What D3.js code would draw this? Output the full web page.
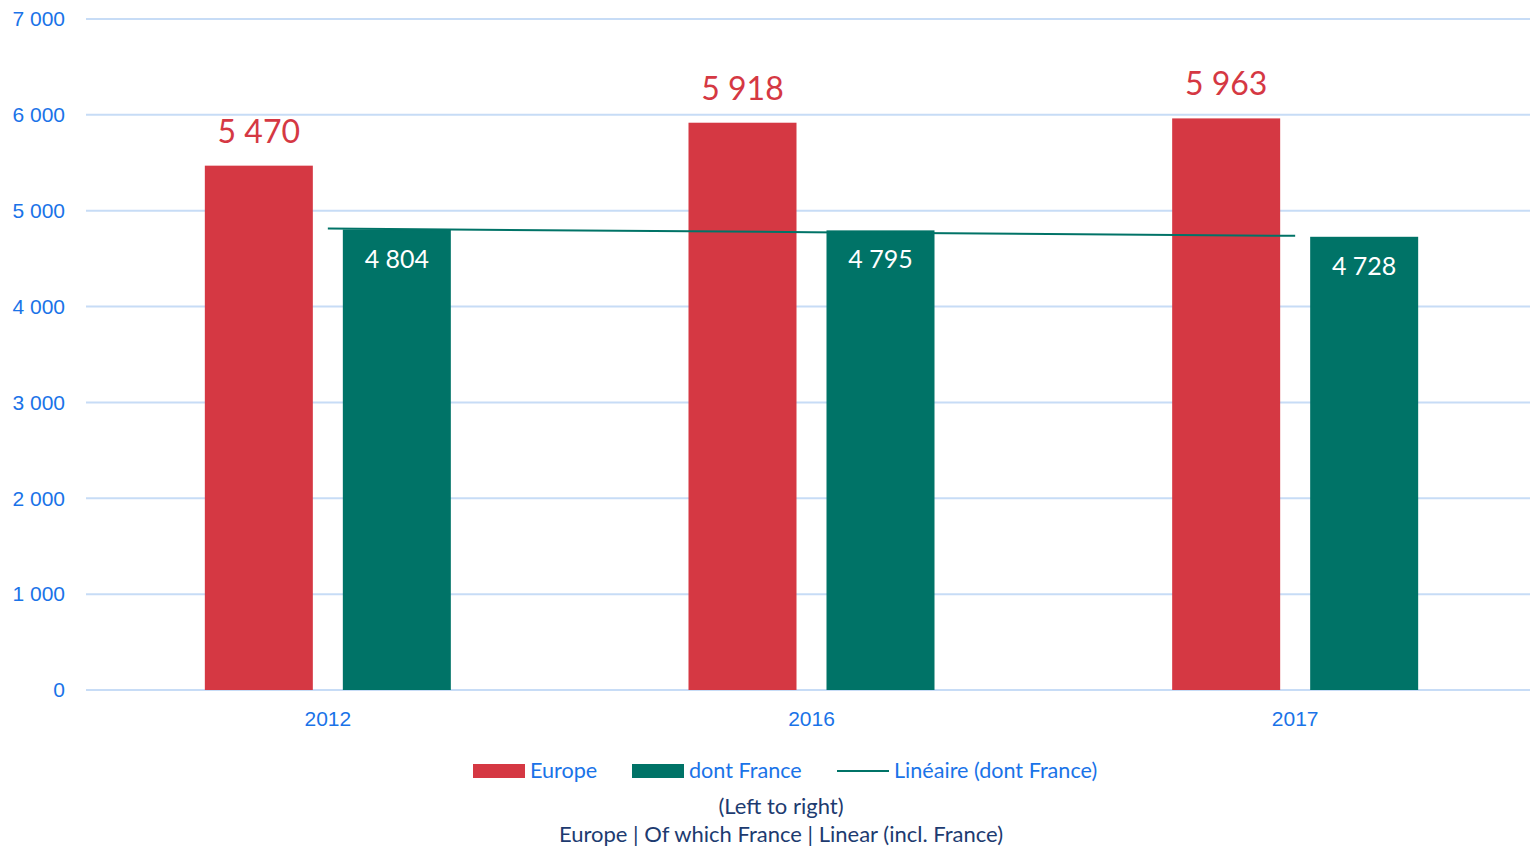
<!DOCTYPE html>
<html>
<head>
<meta charset="utf-8">
<script src="https://cdn.jsdelivr.net/npm/d3@7"></script>
<style>
  html, body { margin: 0; padding: 0; background: #fff; }
  svg { display: block; }
</style>
</head>
<body>
<svg id="chart" width="1530" height="846"></svg>
<script>
// Data
const years = ["2012", "2016", "2017"];
const europe = [5470, 5918, 5963];
const france = [4804, 4795, 4728];
const yTicks = [0, 1000, 2000, 3000, 4000, 5000, 6000, 7000];
const legendLabels = ["Europe", "dont France", "Linéaire (dont France)"];
const noteLines = ["(Left to right)", "Europe | Of which France | Linear (incl. France)"];

const RED = "#d53843";
const GREEN = "#007367";
const AXIS_BLUE = "#1a73e8";
const GRID = "#c7dcf6";
const NAVY = "#1d3b70";
const labelFont = "Lato, 'Open Sans', sans-serif";
const axisFont = "'Liberation Sans', Arial, sans-serif";

const svg = d3.select("#chart");
const W = 1530, H = 846;
const plotLeft = 86, plotTop = 19, plotBottom = 690;

// category bands extend slightly past the right edge of the canvas
const x = d3.scaleBand().domain(years).range([plotLeft, 1537]).paddingInner(0).paddingOuter(0);
const y = d3.scaleLinear().domain([0, 7000]).range([plotBottom, plotTop]);

const fmt = v => d3.format(",")(v).replace(/,/g, " ");

// Gridlines
svg.append("g").selectAll("line").data(yTicks).join("line")
  .attr("x1", plotLeft).attr("x2", W)
  .attr("y1", d => y(d)).attr("y2", d => y(d))
  .attr("stroke", GRID).attr("stroke-width", 2);

// Y axis labels
const yAxis = d3.axisLeft(y).tickValues(yTicks).tickSize(0).tickPadding(21).tickFormat(fmt);
const gy = svg.append("g").attr("transform", `translate(${plotLeft},0)`).call(yAxis);
gy.select(".domain").remove();
gy.selectAll("text").attr("fill", AXIS_BLUE).attr("font-family", axisFont).attr("font-size", 21);

// X axis labels
const xAxis = d3.axisBottom(x).tickSize(0).tickPadding(21);
const gx = svg.append("g").attr("transform", `translate(0,${y(0)})`).call(xAxis);
gx.select(".domain").remove();
gx.selectAll("text").attr("fill", AXIS_BLUE).attr("font-family", axisFont).attr("font-size", 21);

// Bars
const barW = 108, gap = 30;
const redX = d => x(d) + x.bandwidth() / 2 - gap / 2 - barW;
const greenX = d => x(d) + x.bandwidth() / 2 + gap / 2;

svg.append("g").selectAll("rect").data(years).join("rect")
  .attr("x", d => redX(d)).attr("width", barW)
  .attr("y", (d, i) => y(europe[i])).attr("height", (d, i) => y(0) - y(europe[i]))
  .attr("fill", RED);

svg.append("g").selectAll("rect").data(years).join("rect")
  .attr("x", d => greenX(d)).attr("width", barW)
  .attr("y", (d, i) => y(france[i])).attr("height", (d, i) => y(0) - y(france[i]))
  .attr("fill", GREEN);

// Linear trend of the France series
const xs = france.map((_, i) => i + 1);
const mx = d3.mean(xs), my = d3.mean(france);
const slope = d3.sum(xs.map((xi, i) => (xi - mx) * (france[i] - my))) / d3.sum(xs.map(xi => (xi - mx) ** 2));
const icpt = my - slope * mx;
const trend = years.map((yr, i) => ({ cx: x(yr) + x.bandwidth() / 2, v: icpt + slope * (i + 1) }));
svg.append("path")
  .datum(trend)
  .attr("d", d3.line().x(d => d.cx).y(d => y(d.v)))
  .attr("fill", "none").attr("stroke", GREEN).attr("stroke-width", 2);

// Value labels
svg.append("g").selectAll("text").data(years).join("text")
  .attr("x", d => redX(d) + barW / 2)
  .attr("y", (d, i) => y(europe[i]) - 23)
  .attr("text-anchor", "middle")
  .attr("font-family", labelFont).attr("font-size", 32)
  .attr("fill", RED)
  .text((d, i) => fmt(europe[i]));

svg.append("g").selectAll("text").data(years).join("text")
  .attr("x", d => greenX(d) + barW / 2)
  .attr("y", (d, i) => y(france[i]) + 38)
  .attr("text-anchor", "middle")
  .attr("font-family", labelFont).attr("font-size", 25)
  .attr("fill", "#fff")
  .text((d, i) => fmt(france[i]));

// Legend
const lg = svg.append("g").attr("font-family", labelFont).attr("font-size", 21.6).attr("fill", AXIS_BLUE);
const legendY = 771;
lg.append("rect").attr("x", 473).attr("y", legendY - 7).attr("width", 52).attr("height", 14).attr("fill", RED);
lg.append("text").attr("x", 530).attr("y", legendY + 7).text(legendLabels[0]);
lg.append("rect").attr("x", 632).attr("y", legendY - 7).attr("width", 52).attr("height", 14).attr("fill", GREEN);
lg.append("text").attr("x", 689).attr("y", legendY + 7).text(legendLabels[1]);
lg.append("line").attr("x1", 837).attr("x2", 889).attr("y1", legendY).attr("y2", legendY)
  .attr("stroke", GREEN).attr("stroke-width", 2);
lg.append("text").attr("x", 894).attr("y", legendY + 7).text(legendLabels[2]);

// Note
svg.append("g").selectAll("text").data(noteLines).join("text")
  .attr("x", 781).attr("y", (d, i) => 814 + i * 28)
  .attr("text-anchor", "middle")
  .attr("font-family", labelFont).attr("font-size", 22)
  .attr("fill", NAVY)
  .text(d => d);
</script>
</body>
</html>
